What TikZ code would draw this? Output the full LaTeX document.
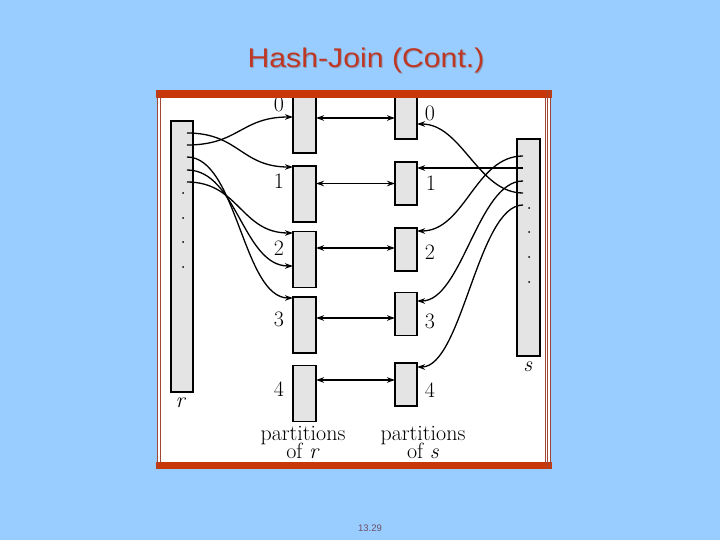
\documentclass[tikz,border=0pt]{standalone}
\usepackage{fontspec}
\newfontfamily\titlefont{Liberation Sans}
\usetikzlibrary{arrows.meta}
\definecolor{bgblue}{RGB}{153,204,255}
\definecolor{framered}{RGB}{200,55,10}
\definecolor{framebrown}{RGB}{160,70,50}
\definecolor{titlered}{RGB}{190,55,35}
\definecolor{titleshadow}{RGB}{135,160,195}
\definecolor{boxgray}{RGB}{228,228,228}
\definecolor{footcol}{RGB}{110,80,100}
\begin{document}
\begin{tikzpicture}[x=1pt,y=-1pt,
  partbox/.style={draw=black,line width=1.5pt,fill=boxgray,inner sep=0pt,outer sep=0pt},
  rpart/.style={partbox,minimum width=23pt,minimum height=56pt},
  spart/.style={partbox,minimum width=22pt,minimum height=43pt},
  link/.style={line width=1.3pt,-{Stealth[length=8pt,width=5.5pt]}},
  dbl/.style={line width=1.3pt,{Stealth[length=8pt,width=5.5pt]}-{Stealth[length=8pt,width=5.5pt]}},
  lbl/.style={font=\fontsize{22}{24}\selectfont,inner sep=0pt},
  caplbl/.style={font=\fontsize{22}{18.5}\selectfont,inner sep=0pt,align=center,anchor=north},
  dotc/.style={circle,fill=black,inner sep=0pt,minimum size=2pt},
  titletxt/.style={font=\titlefont\fontsize{27}{30}\selectfont,inner sep=0pt,xscale=1.12,transform shape}]
% background
\fill[bgblue] (0,0) rectangle (720,540);
\useasboundingbox (0,0) rectangle (720,540);
% title
\node[titletxt,text=titleshadow] (titleshadow) at (367,62) {Hash-Join (Cont.)};
\node[titletxt,text=titlered] (title) at (366,61) {Hash-Join (Cont.)};
% frame interior
\fill[white] (157,91) rectangle (551,468);
% relations
\node[partbox,minimum width=22pt,minimum height=271pt] (r) at (182,256.5) {};
\node[partbox,minimum width=23pt,minimum height=217pt] (s) at (528.5,247.5) {};
\node[lbl,anchor=base] (rlab) at (181,407) {\textit{r}};
\node[lbl,anchor=base] (slab) at (528,371) {\textit{s}};
% dots
\foreach \i/\y in {1/193,2/218,3/242,4/267}{\node[dotc] (rd\i) at (183,\y) {};}
\foreach \i/\y in {1/208,2/232,3/257,4/282}{\node[dotc] (sd\i) at (529,\y) {};}
% partitions of r
\node[rpart] (r0) at (304.5,125) {};
\node[rpart] (r1) at (304.5,194) {};
\node[rpart] (r2) at (304.5,259.5) {};
\node[rpart] (r3) at (304.5,325) {};
\node[rpart] (r4) at (304.5,393.5) {};
% partitions of s
\node[spart] (s0) at (406,117.5) {};
\node[spart] (s1) at (406,183.5) {};
\node[spart] (s2) at (406,249.5) {};
\node[spart] (s3) at (406,314) {};
\node[spart] (s4) at (406,384.5) {};
% partition numbers
\node[lbl] (rn0) at (279,104) {0};
\node[lbl] (rn1) at (279,181) {1};
\node[lbl] (rn2) at (279,248) {2};
\node[lbl] (rn3) at (279,319) {3};
\node[lbl] (rn4) at (279,389) {4};
\node[lbl] (sn0) at (430,113) {0};
\node[lbl] (sn1) at (431,183) {1};
\node[lbl] (sn2) at (430,252) {2};
\node[lbl] (sn3) at (430,321) {3};
\node[lbl] (sn4) at (430,390) {4};
\node[caplbl] (pr) at (303,426) {partitions\\[-2.3pt]of \textit{r}};
\node[caplbl] (ps) at (423,426) {partitions\\[-2.3pt]of \textit{s}};
% horizontal double arrows
\path ([yshift=-0.5pt]s0.west) coordinate (h0);
\path (s1.west) coordinate (h1);
\path ([yshift=1.5pt]s2.west) coordinate (h2);
\path ([yshift=-4pt]s3.west) coordinate (h3);
\path ([yshift=4.5pt]s4.west) coordinate (h4);
\foreach \k in {0,...,4}{\draw[dbl] (r\k.east |- h\k) -- (h\k);}
% tuples of r
\coordinate (rt1) at (187,133);
\coordinate (rt2) at (187,145);
\coordinate (rt3) at (187,157);
\coordinate (rt4) at (187,170);
\coordinate (rt5) at (187,182);
\draw[link] (rt1) .. controls +(52,0) and +(-52,0) .. ([yshift=-1pt]r1.north west);
\draw[link] (rt2) .. controls +(52,0) and +(-52,0) .. ([yshift=8pt]r0.west);
\draw[link] (rt3) .. controls +(50,0) and +(-50,0) .. ([yshift=-1pt]r3.north west);
\draw[link] (rt4) .. controls +(50,0) and +(-50,0) .. ([yshift=-6.5pt]r2.west);
\draw[link] (rt5) .. controls +(52,0) and +(-52,0) .. ([yshift=-1.5pt]r2.north west);
% tuples of s
\coordinate (st1) at (523,156);
\coordinate (st2) at (523,168);
\coordinate (st3) at (523,181);
\coordinate (st4) at (523,193);
\coordinate (st5) at (523,205);
\draw[link] (st1) .. controls +(-48,0) and +(48,0) .. ([yshift=-3pt]s2.north east);
\draw[link] (st2) -- (s1.east |- st2);
\draw[link] (st3) .. controls +(-45,0) and +(45,0) .. ([yshift=-8.5pt]s3.north east);
\draw[link] (st4) .. controls +(-45,0) and +(45,0) .. ([yshift=-6.5pt]s0.east);
\draw[link] (st5) .. controls +(-45,0) and +(45,0) .. ([yshift=-4pt]s4.north east);
% frame borders
\fill[framered] (156,90.5) rectangle (552,98);
\fill[framered] (156,462) rectangle (552,468.5);
\draw[framebrown,line width=0.9pt] (157.5,90.5) -- (157.5,468.5);
\draw[framebrown,line width=0.9pt] (160.5,97) -- (160.5,462.5);
\draw[framebrown,line width=0.9pt] (545,97) -- (545,462.5);
\draw[framebrown,line width=0.9pt] (547.5,90.5) -- (547.5,468.5);
\draw[framebrown,line width=0.9pt] (550.5,90.5) -- (550.5,468.5);
% footer
\node[font=\titlefont\fontsize{9.5}{11}\selectfont,text=footcol,inner sep=0pt] (footer) at (370,528) {13.29};
\end{tikzpicture}
\end{document}
